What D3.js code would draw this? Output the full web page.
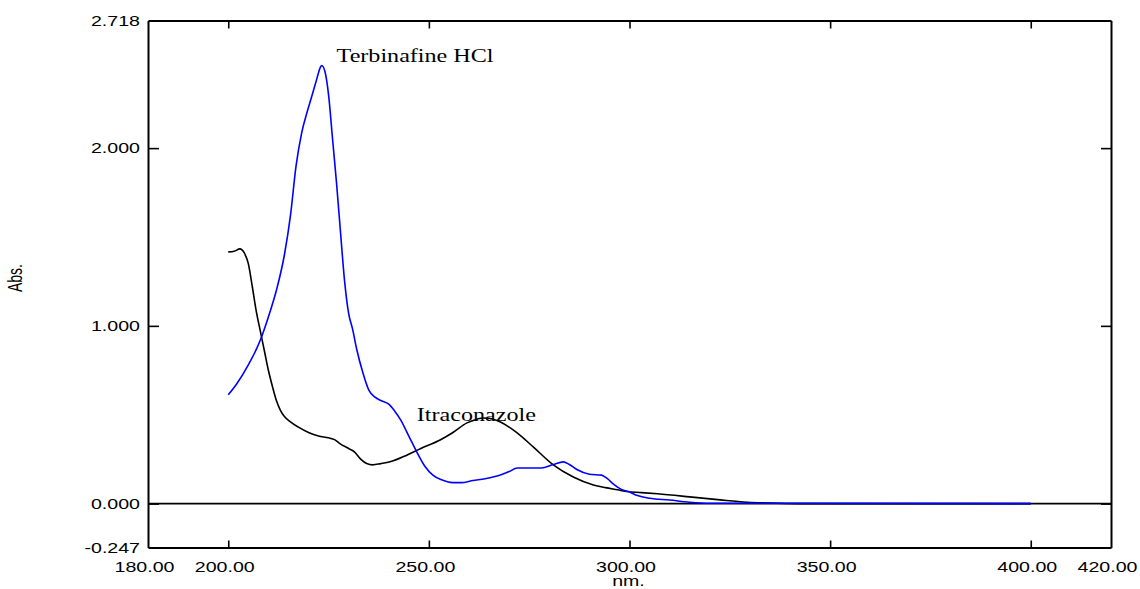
<!DOCTYPE html>
<html>
<head>
<meta charset="utf-8">
<script src="https://cdn.jsdelivr.net/npm/d3@7"></script>
<style>
  html, body { margin: 0; padding: 0; background: #fff; }
  svg { display: block; }
  .lbl { font-family: "Liberation Sans", Arial, sans-serif; font-size: 14px; fill: #000; }
  .ann { font-family: "Liberation Serif", "Times New Roman", serif; font-size: 18px; fill: #000; }
</style>
</head>
<body>
<svg id="chart" width="1140" height="589"></svg>
<script>
// UV absorbance spectra (wavelength in nm, absorbance in Abs.)
const terbinafineNm = [200.0, 202.0, 205.0, 208.0, 210.0, 212.0, 214.0, 215.5, 216.9, 218.3, 219.6, 220.8, 222.0, 222.9, 223.3, 224.1, 225.0, 226.0, 227.0, 228.0, 229.0, 230.0, 231.0, 232.0, 233.5, 235.0, 236.5, 238.0, 240.0, 241.5, 243.0, 245.0, 247.0, 249.0, 251.0, 253.0, 256.0, 258.0, 261.0, 264.0, 267.0, 270.0, 272.0, 278.0, 281.0, 283.5, 285.0, 287.0, 290.0, 293.0, 294.5, 296.0, 298.0, 300.0, 302.0, 305.0, 310.0, 315.0, 320.0, 400.0];
const terbinafineAbs = [0.612, 0.67, 0.78, 0.92, 1.05, 1.20, 1.40, 1.62, 1.90, 2.086, 2.199, 2.29, 2.384, 2.452, 2.465, 2.431, 2.30, 2.05, 1.80, 1.52, 1.25, 1.07, 0.98, 0.87, 0.74, 0.64, 0.60, 0.58, 0.56, 0.52, 0.47, 0.38, 0.29, 0.21, 0.16, 0.135, 0.118, 0.118, 0.13, 0.14, 0.155, 0.18, 0.20, 0.20, 0.22, 0.235, 0.22, 0.19, 0.165, 0.16, 0.14, 0.11, 0.08, 0.065, 0.045, 0.03, 0.02, 0.008, 0.002, 0.000];

const itraconazoleNm = [200.0, 201.5, 202.9, 204.0, 205.0, 206.0, 207.0, 208.0, 209.0, 210.0, 211.0, 212.0, 213.0, 214.0, 215.5, 217.5, 220.0, 222.5, 225.0, 226.5, 228.0, 230.0, 231.5, 233.0, 234.5, 236.0, 238.0, 240.3, 244.6, 248.0, 252.8, 256.0, 259.5, 262.0, 263.5, 265.0, 267.7, 270.0, 272.0, 276.0, 281.0, 286.0, 291.0, 294.0, 297.0, 299.4, 303.0, 307.0, 315.0, 322.6, 329.3, 335.0, 342.5, 400.0];
const itraconazoleAbs = [1.416, 1.42, 1.433, 1.41, 1.35, 1.22, 1.08, 0.97, 0.86, 0.75, 0.66, 0.58, 0.525, 0.49, 0.46, 0.43, 0.40, 0.38, 0.37, 0.36, 0.335, 0.31, 0.29, 0.25, 0.225, 0.218, 0.225, 0.235, 0.274, 0.31, 0.358, 0.40, 0.454, 0.475, 0.482, 0.48, 0.46, 0.43, 0.398, 0.319, 0.218, 0.15, 0.105, 0.09, 0.078, 0.068, 0.062, 0.055, 0.038, 0.021, 0.008, 0.003, 0.000, 0.000];

const xTickValues = [200, 250, 300, 350, 400];
const xLabelValues = [180, 200, 250, 300, 350, 400, 420];
const xLabelText = ["180.00", "200.00", "250.00", "300.00", "350.00", "400.00", "420.00"];
const yTickValues = [2, 1, 0];
const yLabelValues = [2.718, 2, 1, 0, -0.247];
const yLabelText = ["2.718", "2.000", "1.000", "0.000", "-0.247"];

const seriesNames = ["Terbinafine HCl", "Itraconazole"];
const seriesColors = ["#0000ff", "#000000"];
// label anchor points in data units (nm, Abs.)
const labelNm = [227.0, 247.0];
const labelAbs = [2.484, 0.465];

const svg = d3.select("#chart");
const plot = { left: 148, right: 1111, top: 20.5, bottom: 547.5 };
const stretch = 1.4; // wide horizontal lettering of the instrument printout

const x = d3.scaleLinear().domain([180, 420]).range([plot.left, plot.right]);
const y = d3.scaleLinear().domain([-0.247, 2.718]).range([plot.bottom, plot.top]);

// spectra
const series = [
  terbinafineNm.map((n, i) => [n, terbinafineAbs[i]]),
  itraconazoleNm.map((n, i) => [n, itraconazoleAbs[i]])
];
const line = d3.line().x(d => x(d[0])).y(d => y(d[1])).curve(d3.curveMonotoneX);

// zero baseline
svg.append("line")
  .attr("x1", x(180)).attr("x2", x(420))
  .attr("y1", y(0)).attr("y2", y(0))
  .attr("stroke", "#000").attr("stroke-width", 1.6);

// draw itraconazole first so the blue trace sits on top
[1, 0].forEach(k => {
  svg.append("path")
    .datum(series[k])
    .attr("fill", "none")
    .attr("stroke", seriesColors[k])
    .attr("stroke-width", 1.6)
    .attr("stroke-linejoin", "round")
    .attr("d", line);
});

// frame axes with inward ticks
svg.append("g").attr("transform", `translate(0,${plot.bottom})`)
  .call(d3.axisBottom(x).tickValues(xTickValues).tickSize(-7).tickFormat("").tickSizeOuter(0));
svg.append("g").attr("transform", `translate(0,${plot.top})`)
  .call(d3.axisTop(x).tickValues(xTickValues).tickSize(-8).tickFormat("").tickSizeOuter(0));
svg.append("g").attr("transform", `translate(${plot.left},0)`)
  .call(d3.axisLeft(y).tickValues(yTickValues).tickSize(-11).tickFormat("").tickSizeOuter(0));
svg.append("g").attr("transform", `translate(${plot.right},0)`)
  .call(d3.axisRight(y).tickValues(yTickValues).tickSize(-10).tickFormat("").tickSizeOuter(0));
svg.selectAll(".domain").attr("stroke", "#000").attr("stroke-width", 2);
svg.selectAll(".tick line").attr("stroke", "#000").attr("stroke-width", 1.6);

// tick labels
svg.append("g").selectAll("text").data(xLabelValues).join("text")
  .attr("class", "lbl")
  .attr("text-anchor", "middle")
  .attr("transform", d => `translate(${x(d) - 3.5},572) scale(${stretch},1)`)
  .text((d, i) => xLabelText[i]);

svg.append("g").selectAll("text").data(yLabelValues).join("text")
  .attr("class", "lbl")
  .attr("text-anchor", "end")
  .attr("transform", d => `translate(140,${y(d) + 5}) scale(${stretch},1)`)
  .text((d, i) => yLabelText[i]);

// axis titles
svg.append("text").attr("class", "lbl")
  .attr("text-anchor", "middle")
  .attr("transform", `translate(${(plot.left + plot.right) / 2 - 1},586) scale(${stretch},1)`)
  .text("nm.");
svg.append("text").attr("class", "lbl")
  .attr("text-anchor", "middle")
  .attr("transform", `translate(22,278) scale(${stretch},1) rotate(-90)`)
  .text("Abs.");

// trace labels
svg.append("g").selectAll("text").data(seriesNames).join("text")
  .attr("class", "ann")
  .attr("transform", (d, i) => `translate(${x(labelNm[i])},${y(labelAbs[i])}) scale(1.34,1)`)
  .text(d => d);
</script>
</body>
</html>
